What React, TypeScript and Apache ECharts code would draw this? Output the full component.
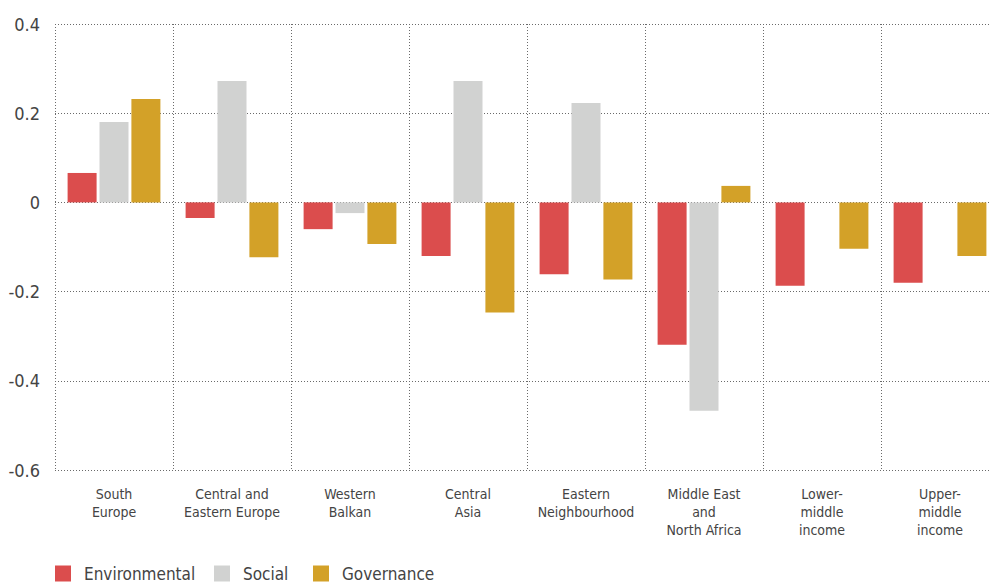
import React, { useEffect, useRef } from "react";
import * as echarts from "echarts";

const categories = [
  "South\nEurope",
  "Central and\nEastern Europe",
  "Western\nBalkan",
  "Central\nAsia",
  "Eastern\nNeighbourhood",
  "Middle East\nand\nNorth Africa",
  "Lower-\nmiddle\nincome",
  "Upper-\nmiddle\nincome",
];

const environmental = [0.066, -0.035, -0.06, -0.12, -0.161, -0.319, -0.187, -0.18];
const social = [0.18, 0.272, -0.024, 0.272, 0.223, -0.467, 0, 0];
const governance = [0.232, -0.123, -0.093, -0.247, -0.173, 0.037, -0.104, -0.12];

const seriesNames = ["Environmental", "Social", "Governance"];
const seriesColors = ["#db4d4d", "#d1d2d1", "#d3a128"];

const yTicks = { min: -0.6, max: 0.4, interval: 0.2 };

const FONT = '"Liberation Sans Narrow", "DejaVu Sans Condensed", "Roboto", sans-serif';
const TEXT = "#444444";
const GRID_LINE = { color: "#6a6a6a", type: [1, 2] as number[], width: 1 };

export default function App() {
  const ref = useRef<HTMLDivElement>(null);

  useEffect(() => {
    document.body.style.margin = "0";
    if (!ref.current) return;
    const chart = echarts.init(ref.current, undefined, { renderer: "svg" });

    // one legend block per series so each swatch sits at its own spot
    const legendLefts = [55, 214, 313];
    const legends = seriesNames.map((name, i) => ({
      left: legendLefts[i],
      top: 565,
      padding: 0,
      itemWidth: 16,
      itemHeight: 16,
      icon: "rect",
      textStyle: { fontFamily: FONT, fontSize: 17, color: TEXT, padding: [0, 0, 0, 8] },
      data: [name],
    }));

    const seriesData = [environmental, social, governance];

    chart.setOption({
      animation: false,
      textStyle: { fontFamily: FONT },
      grid: { left: 55, top: 24, right: 1, height: 446, containLabel: false },
      legend: legends,
      xAxis: {
        type: "category",
        data: categories,
        axisLine: { show: false },
        axisTick: { show: false },
        splitLine: { show: true, interval: 0, lineStyle: GRID_LINE },
        axisLabel: {
          interval: 0,
          margin: 15,
          fontFamily: FONT,
          fontSize: 14,
          lineHeight: 18,
          color: TEXT,
        },
      },
      yAxis: {
        type: "value",
        min: yTicks.min,
        max: yTicks.max,
        interval: yTicks.interval,
        axisLine: { show: false },
        axisTick: { show: false },
        splitLine: { show: true, lineStyle: GRID_LINE },
        axisLabel: {
          margin: 15,
          fontFamily: FONT,
          fontSize: 18,
          color: TEXT,
          formatter: (v: number) => String(Number(v.toFixed(1))),
        },
      },
      series: seriesNames.map((name, i) => ({
        name,
        type: "bar",
        data: seriesData[i],
        barWidth: 29,
        barGap: "10%",
        itemStyle: { color: seriesColors[i] },
      })),
    });
    return () => chart.dispose();
  }, []);

  // the plot runs a little past the right edge of the visible frame
  return (
    <div style={{ width: 989, height: 586, overflow: "hidden" }}>
      <div ref={ref} style={{ width: 1000, height: 586 }} />
    </div>
  );
}
